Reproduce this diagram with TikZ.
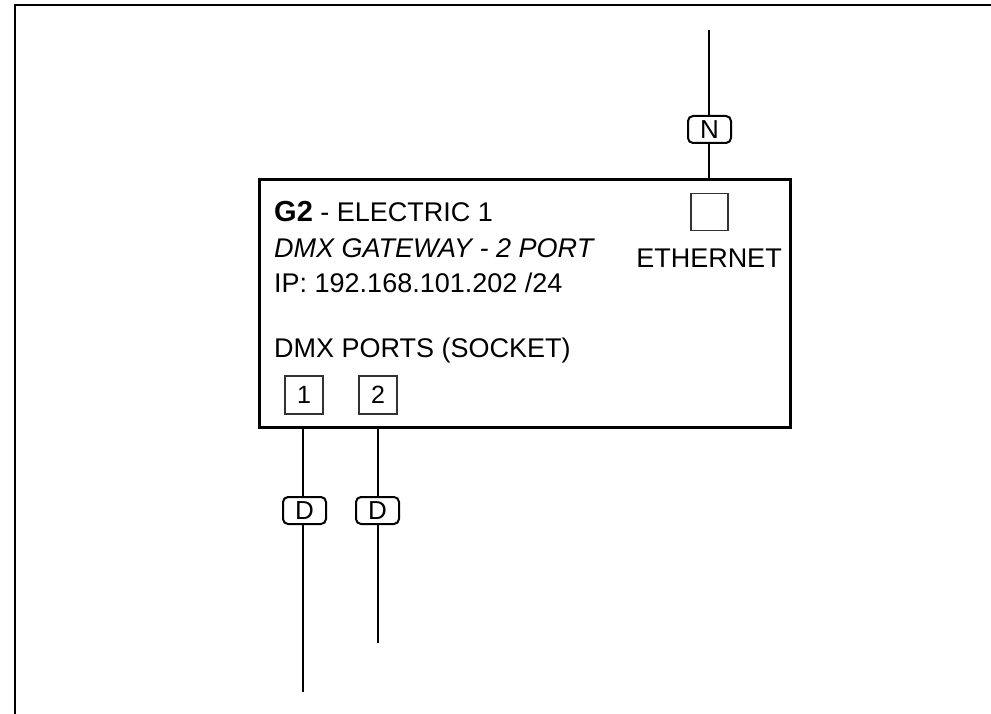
\documentclass[tikz,border=0pt]{standalone}
\usepackage{fontspec}
\setmainfont{Liberation Sans}
\begin{document}
\begin{tikzpicture}[x=1pt,y=-1pt,
  txt/.style={anchor=base west, inner sep=0pt, font=\fontsize{27}{32}\selectfont},
  portbox/.style={draw, line width=1.4pt, draw=black!80, minimum width=38pt, minimum height=38pt, inner sep=0pt, font=\fontsize{25}{28}\selectfont},
  tag/.style={draw, fill=white, line width=2pt, rounded corners=5pt, minimum width=43pt, minimum height=27pt, inner sep=0pt, font=\fontsize{26}{28}\selectfont},
  wire/.style={line width=2pt}]
\useasboundingbox (0,0) rectangle (991,714);
% frame
\draw[line width=2.5pt] (15,714) -- (15,5) -- (991,5);
% gateway box
\node[draw, line width=3pt, minimum width=531pt, minimum height=247pt, inner sep=0pt] (gw) at (524.5,303.5) {};
\node[txt] (t1) at (274,222) {{\fontsize{29}{32}\selectfont\bfseries G2} - ELECTRIC 1};
\node[txt] (t2) at (274,258) {\textit{DMX GATEWAY - 2 PORT}};
\node[txt] (t3) at (274,292) {IP: 192.168.101.202 /24};
\node[txt] (t4) at (274,357) {DMX PORTS (SOCKET)};
\node[txt, anchor=base] (t5) at (709,268) {ETHERNET};
% sockets
\node[portbox, minimum width=37pt, minimum height=37pt] (eth) at (709.5,212) {};
\node[portbox] (p1) at (304,395) {1};
\node[portbox] (p2) at (378,395) {2};
% wires
\coordinate (ntop) at (709,30);
\coordinate (d1end) at (303,692);
\coordinate (d2end) at (378,643);
\coordinate (ntop0) at (709,180);
\draw[wire] (ntop) -- (ntop0);
\draw[wire] (303,427) -- (d1end);
\draw[wire] (378,427) -- (d2end);
% tags
\node[tag] (tn) at (709.5,129.5) {N};
\node[tag] (td1) at (304.5,510.5) {D};
\node[tag] (td2) at (377.5,510.5) {D};
\end{tikzpicture}
\end{document}
